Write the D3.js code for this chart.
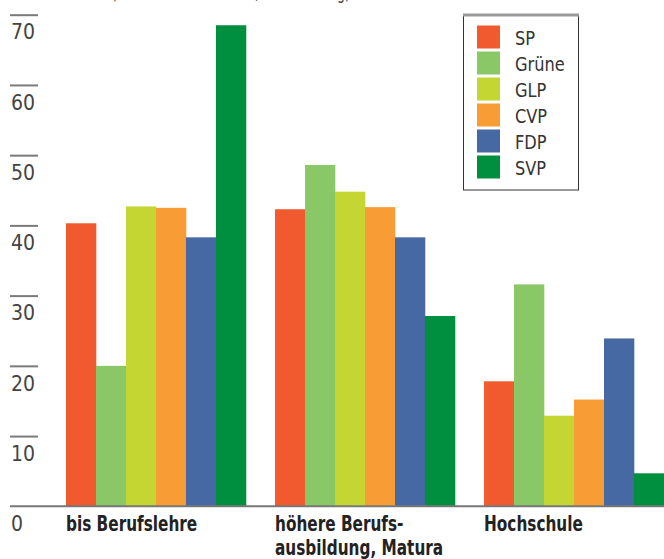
<!DOCTYPE html>
<html>
<head>
<meta charset="utf-8">
<script src="https://cdn.jsdelivr.net/npm/d3@7"></script>
<style>
  body { margin: 0; background: #fff; }
  svg text { font-family: "Liberation Sans Narrow", "DejaVu Sans Condensed", "Liberation Sans", sans-serif; }
</style>
</head>
<body>
<div id="chart"></div>
<script>
// values (percent)
var groups = ["bis Berufslehre", "höhere Berufs-|ausbildung, Matura", "Hochschule"];
var parties = ["SP", "Grüne", "GLP", "CVP", "FDP", "SVP"];
var colors = ["#f15a2f", "#8ac766", "#c3d631", "#f89c35", "#4769a3", "#008f3f"];
var sp    = [40.3, 42.3, 17.8];
var grune = [20.0, 48.6, 31.6];
var glp   = [42.7, 44.8, 12.9];
var cvp   = [42.5, 42.6, 15.2];
var fdp   = [38.3, 38.3, 23.9];
var svp   = [68.5, 27.1, 4.7];
var yTicks = [0, 10, 20, 30, 40, 50, 60, 70];
var title = "Anteil in % (Basis: Parteiwählende, nach Bildung)";

var width = 664, height = 559;
var series = [sp, grune, glp, cvp, fdp, svp];

var svg = d3.select("#chart").append("svg")
    .attr("width", width)
    .attr("height", height);

var y = d3.scaleLinear().domain([0, 70]).range([506.3, 14.7]);

var x0 = d3.scaleBand()
    .domain(groups)
    .range([66, 664])
    .paddingInner(0.139)
    .paddingOuter(0);

var x1 = d3.scaleBand()
    .domain(parties)
    .range([0, x0.bandwidth()]);

var color = d3.scaleOrdinal().domain(parties).range(colors);

// title, cut off at the top edge as in the original
svg.append("text")
    .attr("x", 40)
    .attr("y", -1)
    .attr("textLength", 310)
    .attr("lengthAdjust", "spacingAndGlyphs")
    .style("font-size", "20px")
    .style("fill", "#444")
    .text(title);

// bars
var gGroup = svg.selectAll(".group")
    .data(groups)
    .enter().append("g")
    .attr("class", "group")
    .attr("transform", function(d) { return "translate(" + x0(d) + ",0)"; });

gGroup.selectAll("rect")
    .data(function(d, i) {
        return parties.map(function(p, j) { return { party: p, value: series[j][i] }; });
    })
    .enter().append("rect")
    .attr("x", function(d) { return x1(d.party); })
    .attr("y", function(d) { return y(d.value); })
    .attr("width", x1.bandwidth() + 0.3)
    .attr("height", function(d) { return y(0) - y(d.value); })
    .style("fill", function(d) { return color(d.party); });

// y axis: short lines with the label underneath
var axis = svg.append("g")
    .attr("transform", "translate(10,0)")
    .call(d3.axisRight(y).tickValues(yTicks).tickSize(28).tickFormat(d3.format("d")));

axis.select(".domain").remove();
axis.selectAll(".tick line")
    .attr("stroke", "#7a7a7a")
    .attr("stroke-width", 2)
    .style("display", function(d) { return d === 0 ? "none" : null; });
axis.selectAll(".tick text")
    .attr("x", 1)
    .attr("dy", null)
    .attr("y", 24.3)
    .attr("text-anchor", "start")
    .style("font-size", "21px")
    .style("font-family", "'Liberation Sans Narrow', 'DejaVu Sans Condensed', sans-serif")
    .style("fill", "#444");

// baseline
svg.append("line")
    .attr("x1", 10).attr("x2", width)
    .attr("y1", y(0)).attr("y2", y(0))
    .attr("stroke", "#777")
    .attr("stroke-width", 2);

// category labels (squeezed a bit, the original uses a condensed face)
svg.selectAll(".cat")
    .data(groups)
    .enter().append("text")
    .attr("class", "cat")
    .attr("transform", function(d) { return "translate(" + x0(d) + ",530.6) scale(0.81,1)"; })
    .style("font-size", "21px")
    .style("font-weight", "bold")
    .style("fill", "#222")
    .each(function(d) {
        var t = d3.select(this);
        d.split("|").forEach(function(l, i) {
            t.append("tspan")
                .attr("x", 0)
                .attr("dy", i === 0 ? 0 : 24)
                .text(l);
        });
    });

// legend
var legend = svg.append("g");
legend.append("rect")
    .attr("x", 463.5).attr("y", 15)
    .attr("width", 115).attr("height", 175)
    .attr("fill", "#fff")
    .attr("stroke", "#333")
    .attr("stroke-width", 1);
legend.append("line")
    .attr("x1", 463).attr("x2", 579)
    .attr("y1", 15).attr("y2", 15)
    .attr("stroke", "#999")
    .attr("stroke-width", 3);

var item = legend.selectAll(".item")
    .data(parties)
    .enter().append("g")
    .attr("class", "item")
    .attr("transform", function(d, i) { return "translate(477," + (37 + i * 26) + ")"; });

item.append("rect")
    .attr("x", 0).attr("y", -11.5)
    .attr("width", 23).attr("height", 23)
    .style("fill", function(d) { return color(d); });

item.append("text")
    .attr("transform", "translate(38,7.5) scale(0.9,1)")
    .style("font-size", "20px")
    .style("fill", "#333")
    .text(function(d) { return d; });
</script>
</body>
</html>
